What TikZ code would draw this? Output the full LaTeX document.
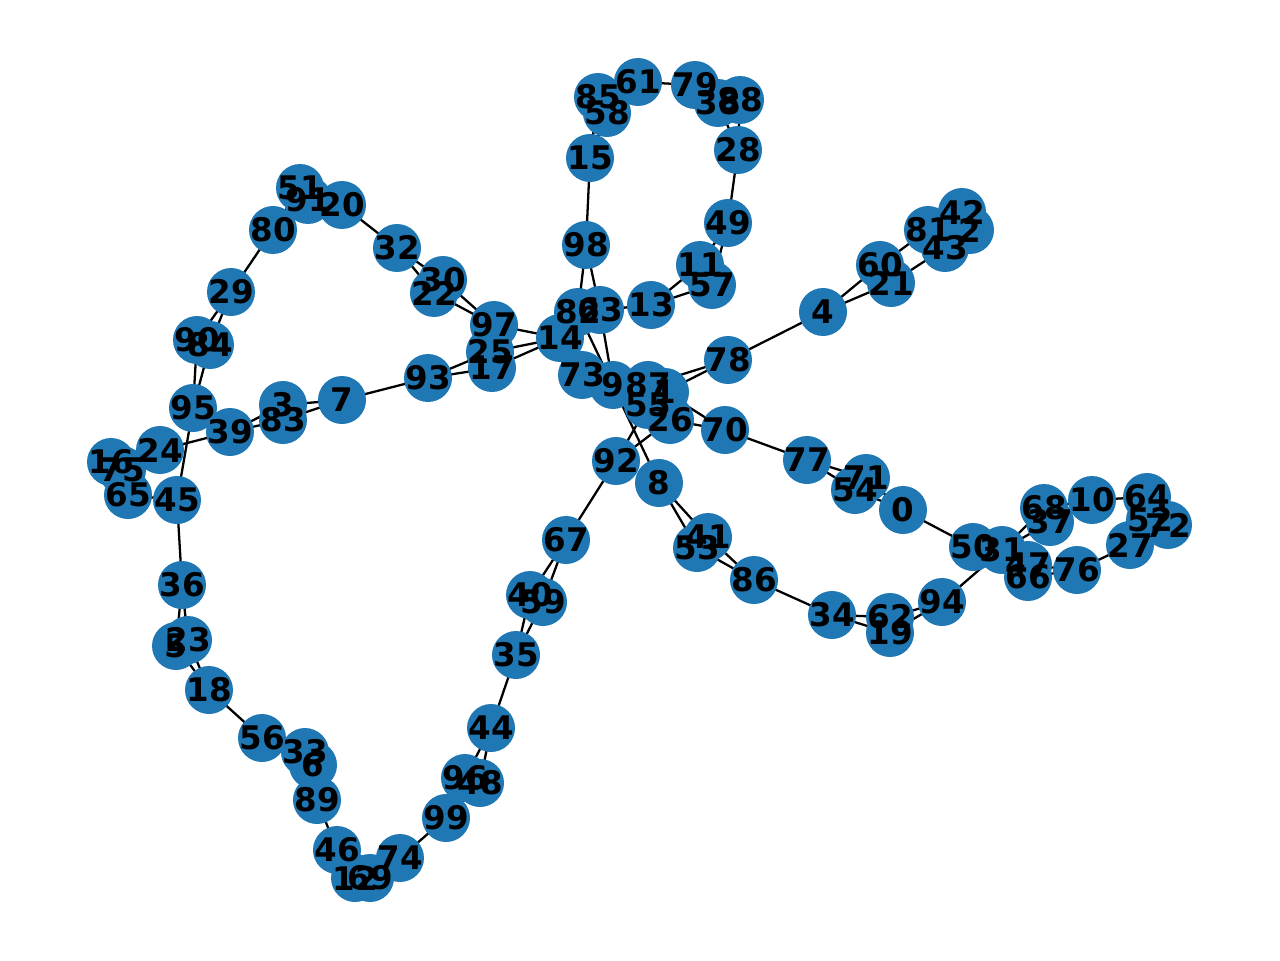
\documentclass[tikz,border=0pt]{standalone}
\usepackage{fontspec}
\setsansfont{DejaVu Sans}
\usetikzlibrary{backgrounds}
\definecolor{vblue}{HTML}{1F77B4}
\tikzset{vertex/.style={circle,fill=vblue,minimum size=0.96cm,inner sep=0pt},
  vlabel/.style={font=\sffamily\bfseries\fontsize{18.5}{20}\selectfont},
  edge/.style={line width=1.3pt}}
\begin{document}
\begin{tikzpicture}[x=0.02cm,y=-0.02cm]
   \useasboundingbox (0,0) rectangle (1280,960);
   % 頂点
   \foreach \n/\x/\y in {0/903/510,1/665/392,2/970/230,3/283/405,4/823/312,5/176/646,6/313/765,
     7/342/400,8/659/483,9/613/385,10/1092/500,11/700/265,12/355/878,13/651/305,14/560/338,
     15/590/158,16/111/462,17/492/368,18/209/690,19/890/633,20/342/205,21/891/283,22/434/293,
     23/188/640,24/160/450,25/490/352,26/670/420,27/1130/545,28/738/150,29/231/292,30/443/280,
     31/1002/550,32/397/248,33/305/752,34/832/615,35/516/655,36/182/585,37/1050/522,38/718/103,
     39/230/432,40/530/595,41/708/537,42/962/212,43/945/248,44/491/728,45/177/500,46/337/850,
     47/1028/565,48/480/783,49/728/223,50/973/547,51/300/188,52/1150/520,53/697/548,54/855/490,
     55/648/405,56/262/738,57/712/285,58/607/113,59/543/602,60/880/265,61/638/82,62/890/617,
     63/600/310,64/1147/497,65/128/495,66/1028/577,67/566/540,68/1044/508,69/370/878,70/725/430,
     71/866/478,72/1168/525,73/582/375,74/400/858,75/122/470,76/1077/570,77/807/460,78/728/360,
     79/695/85,80/273/230,81/928/230,82/578/312,83/283/420,84/210/345,85/598/97,86/754/580,
     87/648/385,88/740/100,89/317/800,90/197/340,91/308/200,92/616/461,93/428/378,94/942/602,
     95/193/408,96/465/778,97/494/325,98/586/245,99/446/818}
     \node[vertex] (v\n) at (\x,\y) {};
   % 辺
   \begin{scope}[on background layer]
   \foreach \a/\b in {14/97,14/25,14/17,25/93,17/93,93/7,7/3,7/83,3/39,83/39,39/24,39/95,
     95/90,95/84,90/29,84/29,29/80,80/91,80/51,91/20,51/20,20/32,32/30,32/22,30/97,22/97,
     95/45,24/16,24/75,16/65,75/65,65/45,45/36,36/5,36/23,5/18,23/18,18/56,56/33,56/6,
     33/89,6/89,89/46,46/12,46/69,12/74,69/74,74/99,99/96,99/48,96/44,48/44,44/35,35/40,
     35/59,40/67,59/67,67/92,92/55,92/26,98/82,98/63,63/13,14/82,14/73,73/9,82/8,63/9,
     9/87,87/1,55/1,55/26,87/78,1/78,26/70,1/70,13/11,13/57,98/15,15/85,15/58,85/61,58/61,
     61/79,79/38,79/88,38/28,88/28,28/49,49/11,49/57,4/78,4/60,4/21,60/81,21/43,81/42,
     81/2,43/2,42/2,70/77,77/71,77/54,71/0,54/0,0/50,50/31,31/94,94/62,94/19,62/34,19/34,
     34/86,86/41,86/53,41/8,53/8,31/68,31/37,47/66,31/47,68/10,37/10,10/64,64/52,64/72,
     52/27,72/27,27/76,76/66,76/47}
     \draw[edge] (v\a.center) -- (v\b.center);
   \end{scope}
   % ラベル
   \foreach \n in {0,...,99} \node[vlabel] at (v\n) {\n};
\end{tikzpicture}
\end{document}
